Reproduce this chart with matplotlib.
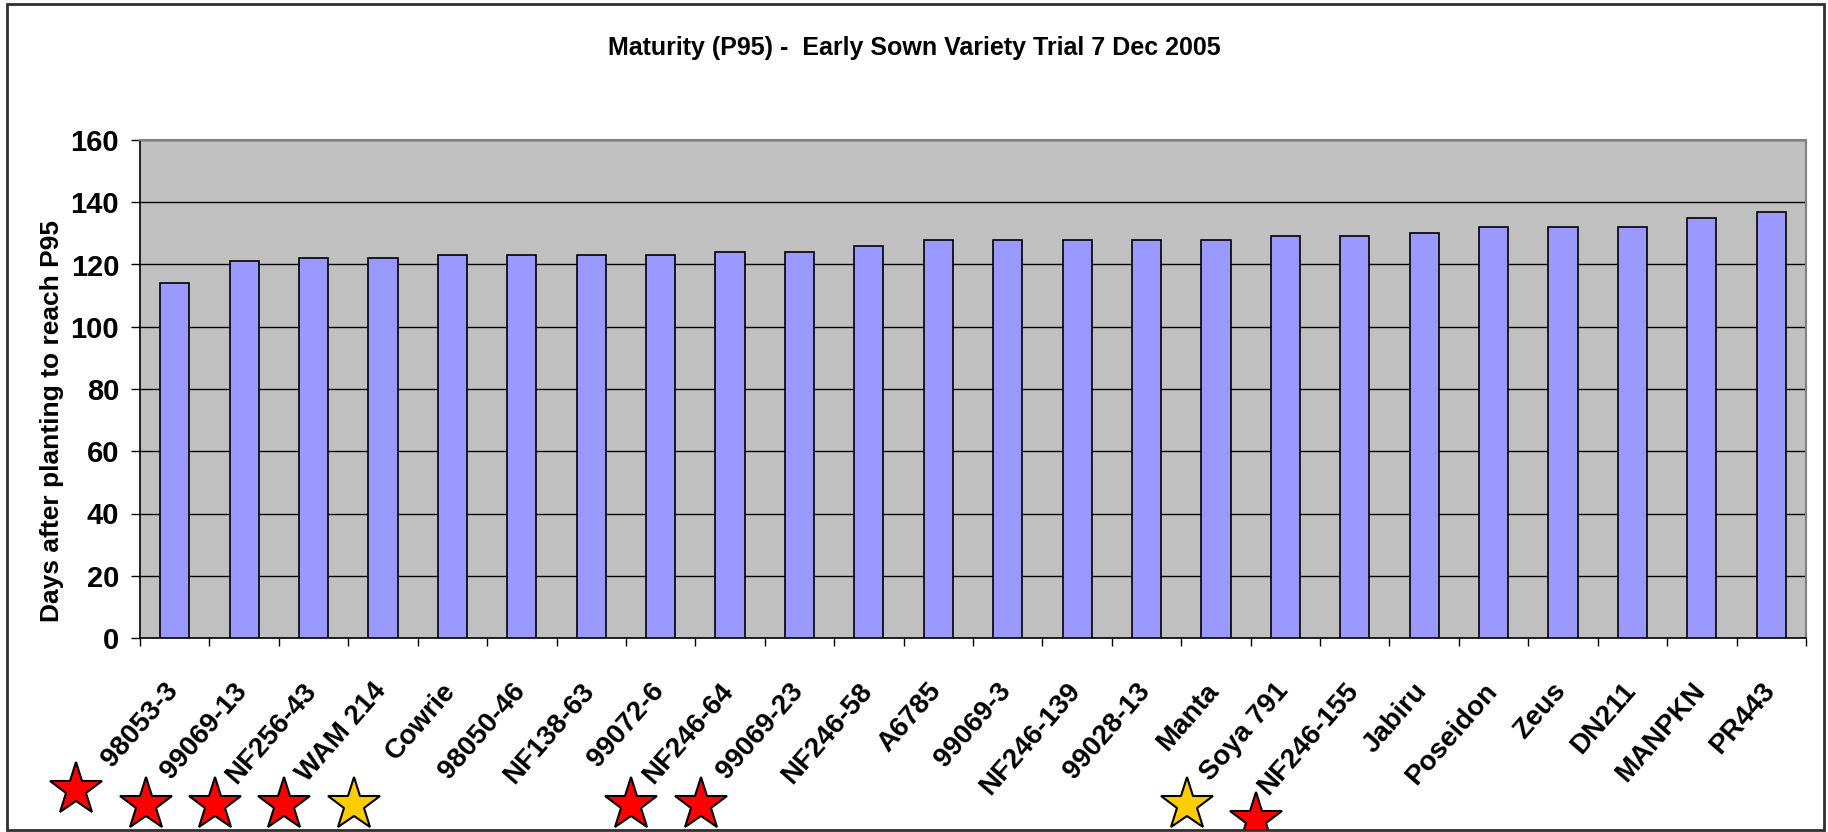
import matplotlib
matplotlib.use("Agg")
import matplotlib.pyplot as plt
from matplotlib import font_manager
from matplotlib.transforms import ScaledTranslation, blended_transform_factory
from matplotlib.patches import Rectangle
import numpy as np

# === data ===
varieties = ['98053-3', '99069-13', 'NF256-43', 'WAM 214', 'Cowrie', '98050-46', 'NF138-63',
             '99072-6', 'NF246-64', '99069-23', 'NF246-58', 'A6785', '99069-3', 'NF246-139',
             '99028-13', 'Manta', 'Soya 791', 'NF246-155', 'Jabiru', 'Poseidon', 'Zeus',
             'DN211', 'MANPKN', 'PR443']
days_p95 = [114, 121, 122, 122, 123, 123, 123, 123, 124, 124, 126, 128,
            128, 128, 128, 128, 129, 129, 130, 132, 132, 132, 135, 137]
yticks = [0, 20, 40, 60, 80, 100, 120, 140, 160]

# star annotations below the labels
star_names = ['98053-3', '99069-13', 'NF256-43', 'WAM 214', 'Cowrie',
              'NF246-64', '99069-23', 'Soya 791', 'NF246-155']
star_colors = ['red', 'red', 'red', 'red', '#FFCC00', 'red', 'red', '#FFCC00', 'red']

title = 'Maturity (P95) -  Early Sown Variety Trial 7 Dec 2005'
ylabel = 'Days after planting to reach P95'


def pick_font(name, fallback):
    try:
        font_manager.findfont(name, fallback_to_default=False)
        return name
    except Exception:
        return fallback


narrow = pick_font('Liberation Sans Narrow', 'Liberation Sans')
plt.rcParams['font.family'] = 'Liberation Sans'

W, H = 1828, 832
fig = plt.figure(figsize=(W / 100, H / 100), dpi=100)
ax = fig.add_axes([140 / W, 1 - 638 / H, (1806 - 140) / W, (638 - 140) / H])

x = np.arange(len(varieties))
ax.set_facecolor('#C0C0C0')
ax.bar(x, days_p95, width=0.42, color='#9999FF', edgecolor='black', linewidth=1.2, zorder=3)

ax.set_xlim(-0.5, len(varieties) - 0.5)
ax.set_ylim(0, 160)
ax.set_yticks(yticks)
ax.set_yticklabels([str(v) for v in yticks], fontfamily=narrow, fontweight='bold', fontsize=21)
ax.yaxis.grid(True, color='black', linewidth=1.0, zorder=1)
ax.set_axisbelow(True)

ax.set_xticks(np.arange(len(varieties) + 1) - 0.5, minor=True)
ax.set_xticks(x)
ax.set_xticklabels(varieties, rotation=49, ha='right', rotation_mode='anchor',
                   fontweight='bold', fontsize=20)
ax.tick_params(axis='x', which='major', length=0, pad=29)
ax.tick_params(axis='x', which='minor', length=6, width=1, direction='out', color='black')
ax.tick_params(axis='y', length=6.5, width=1, direction='out', pad=8.5)
for lbl in ax.get_xticklabels():
    lbl.set_transform(lbl.get_transform() + ScaledTranslation(-11 / 100, 0, fig.dpi_scale_trans))

for side in ['top', 'right']:
    ax.spines[side].set_color('#808080')
    ax.spines[side].set_linewidth(1.5)
for side in ['left', 'bottom']:
    ax.spines[side].set_color('black')
    ax.spines[side].set_linewidth(1.2)

fig.text(0.5, 1 - 48 / H, title, ha='center', va='center',
         fontfamily=narrow, fontweight='bold', fontsize=18)
fig.text(52 / W, 1 - 421 / H, ylabel, ha='center', va='center', rotation=90,
         fontweight='bold', fontsize=19)

# outer chart border
border = Rectangle((7 / W, 2 / H), (1824 - 7) / W, (828 - 2) / H, transform=fig.transFigure,
                   fill=False, edgecolor='#303030', linewidth=2, zorder=10)
fig.patches.append(border)

# stars: placed to the lower left of each label
trans = blended_transform_factory(ax.transData, fig.transFigure)
star_y = [790, 805, 805, 805, 805, 805, 805, 805, 820]
for name, col, yy in zip(star_names, star_colors, star_y):
    i = varieties.index(name)
    ln, = ax.plot([i - 1.42], [1 - yy / H], marker='*', markersize=40, color=col,
                  markeredgecolor='black', markeredgewidth=1.5, transform=trans,
                  clip_on=True, linestyle='none', zorder=5)
    ln.set_clip_path(border)

fig.savefig('out.png', dpi=100)
